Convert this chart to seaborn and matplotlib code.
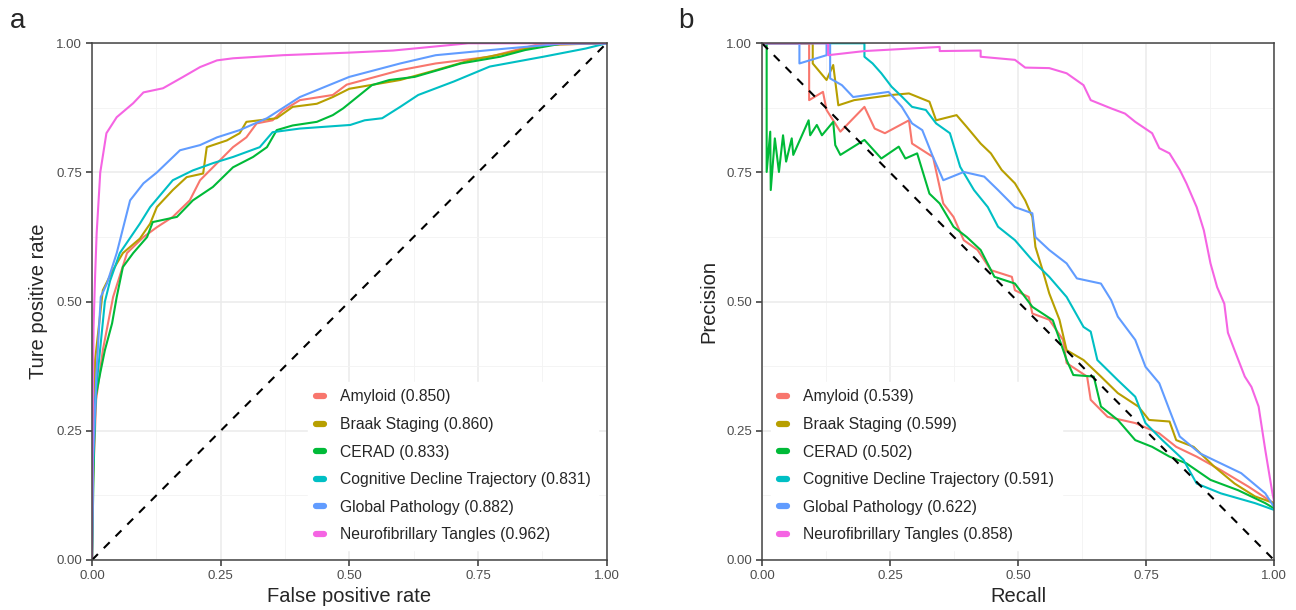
import pandas as pd
import matplotlib.pyplot as plt
from matplotlib.lines import Line2D
from matplotlib.ticker import MultipleLocator
import seaborn as sns

labels = ['Amyloid', 'Braak Staging', 'CERAD', 'Cognitive Decline Trajectory',
          'Global Pathology', 'Neurofibrillary Tangles']
roc_auc = ['0.850', '0.860', '0.833', '0.831', '0.882', '0.962']
pr_auc = ['0.539', '0.599', '0.502', '0.591', '0.622', '0.858']
colors = ['#F8766D', '#B79F00', '#00BA38', '#00BFC4', '#619CFF', '#F564E3']

# ROC curves (false positive rate, true positive rate)
amyloid_fpr = [0, 0.002, 0.008, 0.021, 0.041, 0.068, 0.1, 0.126, 0.157, 0.19, 0.21, 0.235, 0.274,
               0.3, 0.32, 0.351, 0.371, 0.404, 0.468, 0.495, 0.599, 0.668, 0.773, 0.863, 1.0]
amyloid_tpr = [0, 0.15, 0.31, 0.406, 0.509, 0.594, 0.625, 0.644, 0.664, 0.696, 0.735, 0.76, 0.799,
               0.818, 0.845, 0.851, 0.87, 0.89, 0.9, 0.92, 0.948, 0.961, 0.974, 0.997, 1.0]
braak_fpr = [0, 0.002, 0.006, 0.021, 0.04, 0.06, 0.093, 0.113, 0.126, 0.157, 0.184, 0.216, 0.223,
             0.262, 0.287, 0.3, 0.359, 0.39, 0.437, 0.468, 0.5, 0.599, 0.668, 0.738, 0.807, 0.877, 1.0]
braak_tpr = [0, 0.2, 0.387, 0.522, 0.56, 0.594, 0.622, 0.651, 0.683, 0.716, 0.741, 0.748, 0.799,
             0.812, 0.826, 0.848, 0.855, 0.877, 0.883, 0.896, 0.912, 0.929, 0.948, 0.968, 0.981, 0.997, 1.0]
cerad_fpr = [0, 0.003, 0.006, 0.016, 0.025, 0.039, 0.048, 0.06, 0.08, 0.107, 0.118, 0.165, 0.196,
             0.235, 0.274, 0.313, 0.34, 0.359, 0.39, 0.437, 0.468, 0.488, 0.544, 0.578, 0.627,
             0.717, 0.793, 0.842, 0.911, 1.0]
cerad_tpr = [0, 0.17, 0.31, 0.362, 0.406, 0.458, 0.509, 0.567, 0.594, 0.625, 0.654, 0.664, 0.696,
             0.722, 0.76, 0.78, 0.799, 0.832, 0.841, 0.848, 0.861, 0.874, 0.919, 0.929, 0.935,
             0.961, 0.974, 0.987, 0.999, 1.0]
cognitive_fpr = [0, 0.002, 0.008, 0.025, 0.035, 0.054, 0.093, 0.113, 0.157, 0.196, 0.235, 0.274,
                 0.326, 0.351, 0.404, 0.502, 0.53, 0.564, 0.599, 0.634, 0.703, 0.773, 0.877, 0.96, 1.0]
cognitive_tpr = [0, 0.18, 0.33, 0.5, 0.54, 0.594, 0.651, 0.683, 0.735, 0.754, 0.768, 0.78,
                 0.799, 0.828, 0.835, 0.842, 0.851, 0.855, 0.877, 0.9, 0.926, 0.955, 0.974, 0.99, 1.0]
global_fpr = [0, 0.002, 0.008, 0.017, 0.029, 0.048, 0.074, 0.1, 0.126, 0.171, 0.21, 0.243, 0.287,
              0.34, 0.404, 0.5, 0.599, 0.668, 0.807, 0.911, 1.0]
global_tpr = [0, 0.2, 0.35, 0.509, 0.535, 0.594, 0.696, 0.729, 0.75, 0.793, 0.803, 0.818, 0.832,
              0.855, 0.896, 0.935, 0.961, 0.977, 0.99, 0.999, 1.0]
tangles_fpr = [0, 0.001, 0.003, 0.006, 0.009, 0.016, 0.028, 0.048, 0.08, 0.1, 0.138, 0.177, 0.21,
               0.243, 0.274, 0.371, 0.5, 0.585, 0.731, 1.0]
tangles_tpr = [0, 0.25, 0.45, 0.55, 0.632, 0.75, 0.826, 0.857, 0.884, 0.905, 0.913, 0.935, 0.954,
               0.967, 0.971, 0.977, 0.982, 0.986, 1.0, 1.0]

# Precision-recall curves (recall, precision)
amyloid_rec = [0, 0.092, 0.092, 0.119, 0.126, 0.153, 0.2, 0.22, 0.24, 0.287, 0.293, 0.334, 0.354,
               0.374, 0.394, 0.421, 0.447, 0.488, 0.494, 0.521, 0.528, 0.561, 0.588, 0.595, 0.635,
               0.642, 0.675, 0.729, 0.776, 0.809, 0.849, 0.896, 0.95, 0.99, 1.0]
amyloid_prec = [1.0, 1.0, 0.89, 0.906, 0.871, 0.829, 0.877, 0.835, 0.826, 0.851, 0.806, 0.78, 0.69,
                0.664, 0.619, 0.6, 0.561, 0.548, 0.522, 0.509, 0.477, 0.465, 0.426, 0.381, 0.355,
                0.31, 0.277, 0.265, 0.245, 0.219, 0.2, 0.174, 0.142, 0.116, 0.11]
braak_rec = [0, 0.099, 0.099, 0.126, 0.139, 0.149, 0.18, 0.253, 0.287, 0.327, 0.34, 0.38, 0.4,
             0.427, 0.447, 0.468, 0.494, 0.514, 0.528, 0.534, 0.548, 0.561, 0.581, 0.595, 0.628,
             0.662, 0.695, 0.735, 0.756, 0.796, 0.809, 0.843, 0.883, 0.923, 0.963, 1.0]
braak_prec = [1.0, 1.0, 0.961, 0.929, 0.958, 0.88, 0.89, 0.9, 0.903, 0.887, 0.851, 0.861, 0.838,
              0.806, 0.787, 0.755, 0.729, 0.696, 0.664, 0.606, 0.561, 0.516, 0.465, 0.406, 0.387,
              0.355, 0.323, 0.297, 0.271, 0.268, 0.232, 0.219, 0.181, 0.148, 0.123, 0.11]
cerad_rec = [0, 0.009, 0.009, 0.016, 0.017, 0.025, 0.033, 0.041, 0.047, 0.058, 0.061, 0.091, 0.094,
             0.107, 0.117, 0.139, 0.143, 0.153, 0.2, 0.233, 0.267, 0.28, 0.303, 0.327, 0.347, 0.374,
             0.4, 0.427, 0.454, 0.494, 0.528, 0.568, 0.595, 0.608, 0.648, 0.662, 0.695, 0.729,
             0.762, 0.796, 0.829, 0.876, 0.93, 0.983, 1.0]
cerad_prec = [1.0, 1.0, 0.751, 0.829, 0.716, 0.816, 0.751, 0.822, 0.771, 0.816, 0.784, 0.851, 0.822,
              0.842, 0.822, 0.848, 0.803, 0.784, 0.813, 0.777, 0.8, 0.777, 0.787, 0.709, 0.69, 0.645,
              0.625, 0.6, 0.548, 0.535, 0.49, 0.464, 0.387, 0.358, 0.355, 0.297, 0.271, 0.232,
              0.219, 0.2, 0.187, 0.155, 0.135, 0.11, 0.1]
cognitive_rec = [0, 0.2, 0.2, 0.216, 0.233, 0.253, 0.273, 0.293, 0.32, 0.34, 0.367, 0.387, 0.414,
                 0.441, 0.461, 0.494, 0.528, 0.561, 0.595, 0.628, 0.642, 0.655, 0.695, 0.729, 0.749,
                 0.782, 0.823, 0.849, 0.896, 0.963, 1.0]
cognitive_prec = [1.0, 1.0, 0.974, 0.961, 0.942, 0.916, 0.897, 0.877, 0.871, 0.845, 0.826, 0.761,
                  0.716, 0.683, 0.645, 0.619, 0.58, 0.548, 0.509, 0.451, 0.442, 0.387, 0.348, 0.316,
                  0.265, 0.232, 0.194, 0.148, 0.129, 0.11, 0.097]
global_rec = [0, 0.073, 0.073, 0.126, 0.126, 0.133, 0.133, 0.156, 0.178, 0.247, 0.273, 0.293, 0.313,
              0.334, 0.354, 0.394, 0.434, 0.461, 0.494, 0.528, 0.534, 0.561, 0.595, 0.615, 0.662,
              0.682, 0.695, 0.729, 0.749, 0.776, 0.796, 0.816, 0.856, 0.896, 0.936, 0.983, 1.0]
global_prec = [1.0, 1.0, 0.961, 0.977, 1.0, 1.0, 0.932, 0.919, 0.896, 0.906, 0.877, 0.845, 0.832,
               0.78, 0.735, 0.751, 0.742, 0.716, 0.683, 0.671, 0.625, 0.6, 0.574, 0.545, 0.535,
               0.503, 0.471, 0.426, 0.374, 0.342, 0.29, 0.239, 0.206, 0.187, 0.168, 0.129, 0.103]
tangles_rec = [0, 0.129, 0.129, 0.2, 0.347, 0.347, 0.427, 0.427, 0.494, 0.514, 0.561, 0.595, 0.628,
               0.642, 0.682, 0.709, 0.729, 0.762, 0.776, 0.796, 0.816, 0.829, 0.849, 0.863, 0.876,
               0.889, 0.903, 0.91, 0.923, 0.943, 0.956, 0.97, 0.983, 0.997, 1.0]
tangles_prec = [1.0, 1.0, 0.977, 0.985, 0.993, 0.985, 0.986, 0.974, 0.968, 0.953, 0.952, 0.942,
                0.919, 0.89, 0.874, 0.864, 0.848, 0.826, 0.797, 0.787, 0.755, 0.729, 0.683, 0.638,
                0.574, 0.528, 0.496, 0.44, 0.406, 0.355, 0.335, 0.297, 0.213, 0.129, 0.115]

roc_x = [amyloid_fpr, braak_fpr, cerad_fpr, cognitive_fpr, global_fpr, tangles_fpr]
roc_y = [amyloid_tpr, braak_tpr, cerad_tpr, cognitive_tpr, global_tpr, tangles_tpr]
pr_x = [amyloid_rec, braak_rec, cerad_rec, cognitive_rec, global_rec, tangles_rec]
pr_y = [amyloid_prec, braak_prec, cerad_prec, cognitive_prec, global_prec, tangles_prec]

roc_df = pd.concat([pd.DataFrame({'x': x, 'y': y, 'model': lab})
                    for lab, x, y in zip(labels, roc_x, roc_y)], ignore_index=True)
pr_df = pd.concat([pd.DataFrame({'x': x, 'y': y, 'model': lab})
                   for lab, x, y in zip(labels, pr_x, pr_y)], ignore_index=True)

sns.set_theme(style="white")
plt.rcParams['font.family'] = ['Liberation Sans', 'DejaVu Sans']

fig = plt.figure(figsize=(12.96, 6.10), dpi=100)
ax1 = fig.add_axes([0.071, 0.082, 0.397, 0.847])
ax2 = fig.add_axes([0.588, 0.082, 0.395, 0.847])

palette = dict(zip(labels, colors))
sns.lineplot(data=roc_df, x='x', y='y', hue='model', palette=palette, estimator=None,
             sort=False, linewidth=1.5, legend=False, ax=ax1)
ax1.plot([0, 1], [0, 1], ls=(0, (4, 4)), color='black', lw=1.5)
sns.lineplot(data=pr_df, x='x', y='y', hue='model', palette=palette, estimator=None,
             sort=False, linewidth=1.5, legend=False, ax=ax2)
ax2.plot([0, 1], [1, 0], ls=(0, (4, 4)), color='black', lw=1.5)

for ax, xl, yl, aucs, leg_anchor in [
        (ax1, 'False positive rate', 'Ture positive rate', roc_auc, (0.404, 0.004)),
        (ax2, 'Recall', 'Precision', pr_auc, (0.002, 0.004))]:
    ax.set_xlim(0, 1)
    ax.set_ylim(0, 1)
    ax.xaxis.set_major_locator(MultipleLocator(0.25))
    ax.yaxis.set_major_locator(MultipleLocator(0.25))
    ax.xaxis.set_minor_locator(MultipleLocator(0.125))
    ax.yaxis.set_minor_locator(MultipleLocator(0.125))
    ax.xaxis.set_major_formatter(lambda v, p: f'{v:.2f}')
    ax.yaxis.set_major_formatter(lambda v, p: f'{v:.2f}')
    ax.grid(which='major', color='#EBEBEB', lw=1.1)
    ax.grid(which='minor', color='#F3F3F3', lw=0.6)
    ax.set_axisbelow(True)
    for s in ax.spines.values():
        s.set_color('#444444')
        s.set_linewidth(1.1)
    ax.tick_params(which='major', length=4, width=1.1, color='#333333',
                   labelsize=9.5, labelcolor='#4D4D4D', pad=3, bottom=True, left=True)
    ax.tick_params(which='minor', length=0)
    ax.set_xlabel(xl, fontsize=14.5, labelpad=4)
    ax.set_ylabel(yl, fontsize=14.5, labelpad=6)
    handles = [Line2D([0], [0], color=c, lw=4.5) for c in colors]
    texts = [f'{lab} ({a})' for lab, a in zip(labels, aucs)]
    leg = ax.legend(handles, texts, loc='lower left', bbox_to_anchor=leg_anchor, fontsize=11.3,
                    frameon=True, facecolor='white', edgecolor='white', framealpha=1,
                    handlelength=0.55, handletextpad=1.0, labelspacing=0.8, borderpad=0.5)
    leg.set_zorder(2.4)

fig.text(0.008, 0.965, 'a', fontsize=20, va='center')
fig.text(0.523, 0.965, 'b', fontsize=20, va='center')

plt.savefig('out.png', dpi=100)
